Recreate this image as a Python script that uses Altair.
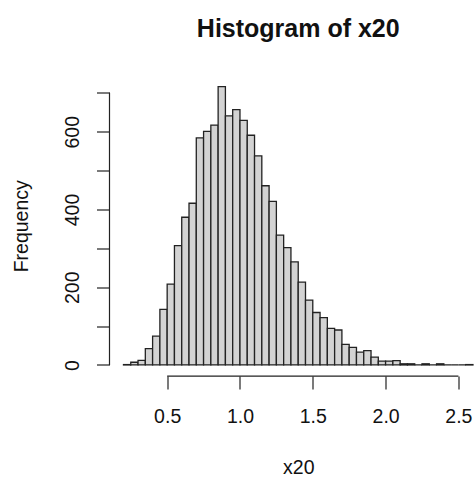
import altair as alt
import pandas as pd

# Histogram bins of x20 (left edges, right edges) and frequencies
bin_left = [0.20, 0.25, 0.30, 0.35, 0.40, 0.45, 0.50, 0.55, 0.60, 0.65, 0.70, 0.75,
            0.80, 0.85, 0.90, 0.95, 1.00, 1.05, 1.10, 1.15, 1.20, 1.25, 1.30, 1.35,
            1.40, 1.45, 1.50, 1.55, 1.60, 1.65, 1.70, 1.75, 1.80, 1.85, 1.90, 1.95,
            2.00, 2.05, 2.10, 2.15, 2.20, 2.25, 2.30, 2.35, 2.40, 2.45, 2.50, 2.55]
bin_right = [0.25, 0.30, 0.35, 0.40, 0.45, 0.50, 0.55, 0.60, 0.65, 0.70, 0.75, 0.80,
             0.85, 0.90, 0.95, 1.00, 1.05, 1.10, 1.15, 1.20, 1.25, 1.30, 1.35, 1.40,
             1.45, 1.50, 1.55, 1.60, 1.65, 1.70, 1.75, 1.80, 1.85, 1.90, 1.95, 2.00,
             2.05, 2.10, 2.15, 2.20, 2.25, 2.30, 2.35, 2.40, 2.45, 2.50, 2.55, 2.60]
counts = [1, 7, 12, 42, 74, 143, 208, 307, 380, 416, 584, 601,
          617, 716, 641, 657, 629, 591, 538, 461, 421, 334, 302, 265,
          213, 167, 135, 122, 94, 90, 53, 45, 33, 37, 20, 10,
          10, 11, 3, 3, 0, 3, 0, 3, 0, 0, 0, 1]

x_ticks = [0.5, 1.0, 1.5, 2.0, 2.5]
y_ticks = [0, 100, 200, 300, 400, 500, 600, 700]
x_domain = [0.104, 2.614]
y_domain = [-28.64, 744.64]

df = pd.DataFrame({"start": bin_left, "end": bin_right, "count": counts})
one = pd.DataFrame({"k": [0]})

FONT = "Liberation Sans"
W, H = 365.5, 300.6

xs = alt.Scale(domain=x_domain, nice=False, zero=False)
ys = alt.Scale(domain=y_domain, nice=False, zero=False)

x_axis = alt.Axis(
    values=x_ticks, format=".1f", domain=False, grid=False,
    tickSize=13, tickColor="#222", tickWidth=1.2,
    labelFont=FONT, labelFontSize=19.5, labelColor="#111",
    labelBaseline="alphabetic", labelPadding=33, labelFlush=False,
    title="x20", titleFont=FONT, titleFontSize=19.5, titleFontWeight="normal",
    titleColor="#111", titleBaseline="alphabetic", titleAlign="center",
    titleX=188.8, titleY=97.2,
)
y_axis = alt.Axis(
    values=y_ticks, domain=False, grid=False,
    labelExpr="datum.value % 200 == 0 ? datum.label : ''",
    tickSize=13, tickColor="#222", tickWidth=1.2,
    labelFont=FONT, labelFontSize=19.5, labelColor="#111",
    labelAngle=270, labelAlign="center", labelBaseline="alphabetic",
    labelPadding=18, labelFlush=False,
    title="Frequency", titleFont=FONT, titleFontSize=19.5, titleFontWeight="normal",
    titleColor="#111", titleAngle=270, titleBaseline="alphabetic",
    titleAlign="center", titleX=-82, titleY=H / 2,
)

bars = alt.Chart(df).mark_rect(fill="#D3D3D3", stroke="#222", strokeWidth=1.3).encode(
    x=alt.X("start:Q", scale=xs, axis=x_axis),
    x2="end:Q",
    y=alt.Y("count:Q", scale=ys, axis=y_axis),
    y2=alt.datum(0),
)

x_line = alt.Chart(one).mark_rule(color="#222", strokeWidth=1.2).encode(
    x=alt.datum(x_ticks[0]), x2=alt.datum(x_ticks[-1]), y=alt.value(H)
)
y_line = alt.Chart(one).mark_rule(color="#222", strokeWidth=1.2).encode(
    y=alt.datum(y_ticks[0]), y2=alt.datum(y_ticks[-1]), x=alt.value(0)
)

chart = alt.layer(bars, x_line, y_line).properties(
    width=W, height=H,
    title=alt.TitleParams(
        text="Histogram of x20", font=FONT, fontSize=25, fontWeight="bold",
        color="#111", anchor="middle", frame="group", baseline="alphabetic",
        offset=14, dx=6,
    ),
    padding={"left": 109.5, "top": 75.5, "right": 0, "bottom": 100.9},
    autosize=alt.AutoSizeParams(type="none"),
    background="white",
).configure_view(stroke=None)

chart.save("out.html", embed_options={"renderer": "svg", "actions": False})
